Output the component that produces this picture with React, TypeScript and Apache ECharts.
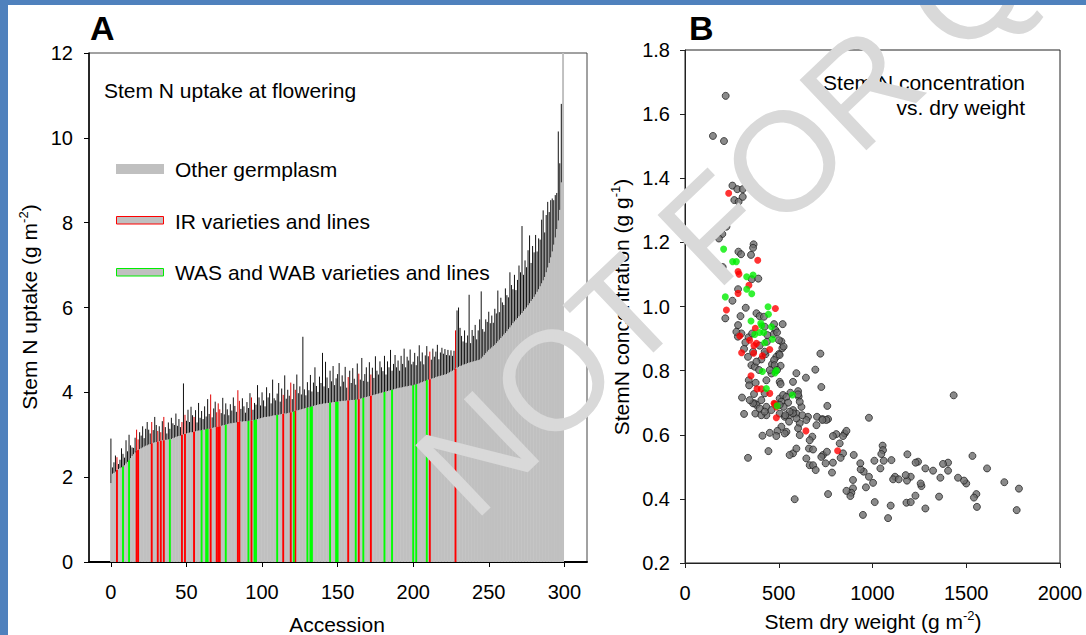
import React, { useEffect, useRef } from 'react';
import * as echarts from 'echarts';

const FONT = "'Liberation Sans', Arial, Helvetica, sans-serif";

// Panel A: sorted stem N uptake per accession (index = accession rank)
const STEM_N_UPTAKE = [
  1.86, 2.08, 2.10, 2.13, 2.17, 2.19, 2.21, 2.23, 2.25, 2.28,
  2.32, 2.36, 2.40, 2.45, 2.50, 2.54, 2.58, 2.62, 2.64, 2.66,
  2.68, 2.70, 2.72, 2.74, 2.75, 2.77, 2.78, 2.80, 2.81, 2.82,
  2.83, 2.84, 2.85, 2.86, 2.87, 2.87, 2.88, 2.88, 2.89, 2.89,
  2.90, 2.92, 2.93, 2.95, 2.96, 2.97, 2.98, 3.00, 3.01, 3.02,
  3.03, 3.04, 3.05, 3.06, 3.06, 3.07, 3.08, 3.09, 3.10, 3.10,
  3.11, 3.12, 3.12, 3.13, 3.14, 3.14, 3.15, 3.16, 3.17, 3.18,
  3.18, 3.19, 3.20, 3.21, 3.22, 3.23, 3.24, 3.25, 3.26, 3.27,
  3.27, 3.28, 3.28, 3.29, 3.30, 3.30, 3.31, 3.31, 3.32, 3.32,
  3.32, 3.33, 3.33, 3.33, 3.34, 3.35, 3.36, 3.37, 3.38, 3.39,
  3.40, 3.41, 3.42, 3.42, 3.43, 3.43, 3.44, 3.45, 3.46, 3.46,
  3.47, 3.47, 3.48, 3.49, 3.49, 3.50, 3.50, 3.51, 3.52, 3.53,
  3.54, 3.55, 3.56, 3.57, 3.58, 3.59, 3.60, 3.61, 3.62, 3.63,
  3.64, 3.65, 3.66, 3.67, 3.68, 3.69, 3.70, 3.71, 3.72, 3.72,
  3.73, 3.74, 3.74, 3.75, 3.75, 3.76, 3.76, 3.77, 3.77, 3.78,
  3.78, 3.79, 3.79, 3.80, 3.80, 3.80, 3.81, 3.81, 3.81, 3.82,
  3.82, 3.82, 3.83, 3.83, 3.84, 3.85, 3.86, 3.87, 3.88, 3.89,
  3.90, 3.91, 3.92, 3.93, 3.94, 3.95, 3.96, 3.97, 3.98, 3.99,
  4.00, 4.01, 4.02, 4.03, 4.04, 4.05, 4.06, 4.07, 4.08, 4.09,
  4.10, 4.11, 4.11, 4.12, 4.13, 4.14, 4.14, 4.15, 4.16, 4.16,
  4.17, 4.18, 4.19, 4.20, 4.21, 4.23, 4.24, 4.26, 4.27, 4.29,
  4.30, 4.31, 4.32, 4.33, 4.34, 4.36, 4.37, 4.38, 4.39, 4.40,
  4.41, 4.42, 4.43, 4.45, 4.47, 4.49, 4.51, 4.53, 4.56, 4.58,
  4.60, 4.62, 4.63, 4.65, 4.66, 4.67, 4.69, 4.70, 4.71, 4.72,
  4.73, 4.74, 4.75, 4.76, 4.77, 4.80, 4.84, 4.88, 4.92, 4.96,
  5.00, 5.03, 5.06, 5.09, 5.12, 5.16, 5.20, 5.24, 5.28, 5.32,
  5.36, 5.40, 5.44, 5.49, 5.53, 5.58, 5.63, 5.67, 5.71, 5.75,
  5.79, 5.83, 5.87, 5.92, 5.96, 6.00, 6.05, 6.10, 6.15, 6.20,
  6.25, 6.31, 6.37, 6.43, 6.50, 6.57, 6.64, 6.72, 6.83, 6.94,
  7.05, 7.18, 7.32, 7.48, 7.65, 7.85, 8.05, 8.30, 8.95, 12.0,
];

const UPTAKE_ERROR = [
  1.05, 0.15, 0.25, 0.38, 0.30, 0.12, 0.20, 0.45, 0.30, 0.18,
  0.55, 0.25, 0.60, 0.30, 0.20, 0.15, 0.35, 0.50, 0.25, 0.40,
  0.30, 0.50, 0.20, 0.40, 0.55, 0.35, 0.25, 0.50, 0.30, 0.60,
  0.40, 0.25, 0.35, 0.20, 0.45, 0.55, 0.30, 0.15, 0.40, 0.25,
  0.50, 0.35, 0.30, 0.55, 0.25, 0.40, 0.20, 0.30, 1.20, 0.45,
  0.30, 0.55, 0.25, 0.60, 0.40, 0.35, 0.50, 0.20, 0.65, 0.30,
  0.45, 0.25, 0.55, 0.30, 0.70, 0.35, 0.80, 0.25, 0.45, 0.60,
  0.35, 0.55, 0.40, 0.30, 0.65, 0.25, 0.50, 0.35, 0.20, 0.45,
  0.30, 0.60, 0.40, 0.25, 0.75, 0.50, 0.30, 0.55, 0.35, 0.20,
  0.45, 0.30, 0.65, 0.55, 0.25, 0.40, 0.35, 0.80, 0.50, 0.30,
  0.60, 0.40, 0.25, 0.70, 0.45, 0.55, 0.30, 0.85, 0.40, 0.35,
  0.50, 0.75, 0.30, 0.60, 0.45, 0.90, 0.35, 0.55, 0.40, 0.70,
  0.30, 0.65, 0.50, 0.85, 0.40, 0.55, 0.35, 1.70, 0.45, 0.30,
  0.60, 0.40, 0.75, 0.35, 0.55, 0.90, 0.45, 0.30, 0.65, 0.50,
  1.20, 0.40, 0.98, 0.60, 0.35, 0.75, 0.50, 0.85, 0.40, 0.55,
  0.65, 0.90, 0.35, 0.60, 0.45, 0.80, 0.30, 0.55, 0.70, 0.40,
  0.75, 0.50, 0.35, 0.85, 0.60, 0.45, 0.95, 0.40, 0.55, 0.70,
  0.35, 0.80, 0.50, 0.65, 0.40, 0.90, 0.55, 0.45, 0.75, 0.60,
  0.50, 0.85, 0.40, 0.70, 0.55, 0.95, 0.45, 0.60, 0.80, 0.50,
  0.65, 0.40, 0.75, 0.55, 0.90, 0.45, 0.70, 0.60, 0.85, 0.50,
  0.55, 0.75, 0.45, 0.65, 0.90, 0.50, 0.70, 0.40, 0.60, 0.80,
  0.55, 0.65, 0.45, 0.70, 0.50, 0.60, 0.75, 0.40, 0.55, 0.65,
  0.50, 0.60, 0.45, 0.55, 0.40, 0.50, 0.35, 0.45, 0.90, 1.35,
  1.40, 0.90, 0.70, 0.55, 0.80, 0.50, 0.65, 1.60, 0.45, 0.75,
  0.60, 0.85, 0.50, 0.70, 0.95, 1.58, 0.65, 0.55, 0.80, 0.70,
  0.90, 0.60, 0.75, 0.55, 0.85, 0.70, 1.20, 0.65, 0.95, 0.80,
  0.70, 1.05, 0.85, 0.75, 1.30, 0.95, 0.80, 1.10, 0.70, 0.90,
  1.20, 1.00, 2.05, 0.85, 1.15, 0.95, 1.30, 1.60, 0.90, 1.25,
  1.05, 1.40, 0.95, 1.20, 1.10, 1.50, 1.65, 1.05, 1.35, 1.55,
  1.20, 1.35, 1.25, 1.05, 1.00, 0.85, 2.10, 1.10, 1.85, 0.00,
];

const IR_ACCESSIONS = [4, 17, 18, 27, 31, 33, 35, 47, 49, 55, 66, 70, 71, 72, 84, 85, 93, 114, 119, 122, 157, 164, 172, 211, 228];
const WAS_ACCESSIONS = [8, 12, 39, 60, 63, 64, 76, 91, 95, 96, 110, 121, 130, 132, 133, 145, 149, 150, 162, 167, 181, 186, 200, 202, 209];
const ACCESSION_TICKS = [0, 50, 100, 150, 200, 250, 300];

// Panel B: [stem dry weight, stem N concentration]
const OTHER_POINTS = [
  [217, 1.657], [149, 1.532], [208, 1.516], [304, 1.439], [253, 1.377], [279, 1.366], [308, 1.366], [263, 1.332], [286, 1.327], [308, 1.342],
  [221, 1.249], [199, 1.226], [181, 1.212], [285, 1.171], [299, 1.163], [366, 1.194], [363, 1.183], [352, 1.161], [201, 1.123], [356, 1.085],
  [391, 1.087], [283, 1.054], [253, 1.018], [215, 0.963], [324, 0.996], [296, 0.970], [283, 0.942], [301, 0.916], [282, 0.906], [381, 0.979],
  [398, 0.970], [421, 0.968], [425, 0.937], [475, 0.945], [521, 0.945], [482, 0.927], [473, 0.914], [491, 0.919], [339, 0.904], [358, 0.916],
  [315, 0.868], [398, 0.878], [437, 0.890], [514, 0.891], [519, 0.870], [501, 0.852], [722, 0.853], [695, 0.803], [645, 0.778], [727, 0.749],
  [594, 0.792], [576, 0.765], [603, 0.736], [562, 0.731], [606, 0.719], [1433, 0.723], [981, 0.653], [759, 0.690],
  [407, 0.835], [429, 0.851], [487, 0.843], [464, 0.820], [475, 0.833], [510, 0.815], [461, 0.791], [434, 0.770], [505, 0.765], [510, 0.758],
  [340, 0.770], [342, 0.754], [377, 0.762], [372, 0.698], [368, 0.727], [425, 0.729], [407, 0.708], [434, 0.687], [461, 0.677], [505, 0.713],
  [523, 0.724], [514, 0.703], [541, 0.718], [550, 0.700], [526, 0.687], [505, 0.666], [532, 0.656], [558, 0.661], [594, 0.666], [621, 0.687],
  [576, 0.677], [612, 0.703], [603, 0.726], [656, 0.656], [704, 0.656], [733, 0.649], [763, 0.649], [304, 0.716], [375, 0.666], [425, 0.859],
  [322, 0.888], [336, 0.843], [354, 0.817], [372, 0.812], [395, 0.802], [381, 0.828], [478, 0.817], [491, 0.802], [452, 0.802], [505, 0.849],
  [526, 0.875], [439, 0.911], [501, 0.895], [363, 0.859], [274, 0.921],
  [315, 0.665], [336, 0.528], [413, 0.597], [445, 0.549], [585, 0.399], [763, 0.415], [949, 0.350], [1083, 0.340], [1097, 0.379], [1012, 0.390],
  [1533, 0.534], [1611, 0.495], [1703, 0.452], [1781, 0.432], [1769, 0.365], [1557, 0.375], [1554, 0.415], [1541, 0.404], [1500, 0.448], [1488, 0.457],
  [1456, 0.466], [1403, 0.513], [1403, 0.488], [1376, 0.509], [1362, 0.466], [1355, 0.407], [1323, 0.488], [1282, 0.495], [1282, 0.370], [1261, 0.440],
  [1257, 0.448], [1243, 0.516], [1230, 0.513], [1229, 0.410], [1204, 0.469], [1184, 0.457], [1177, 0.474], [1181, 0.388], [1204, 0.390], [1186, 0.539],
  [1120, 0.469], [1110, 0.461], [1101, 0.521], [1140, 0.461], [1054, 0.566], [1056, 0.552], [1047, 0.540], [1060, 0.519], [1042, 0.495], [1010, 0.519],
  [1003, 0.450], [981, 0.469], [953, 0.485], [937, 0.492], [965, 0.436], [935, 0.511], [900, 0.537], [896, 0.433], [887, 0.419], [882, 0.409],
  [861, 0.425], [843, 0.542], [830, 0.528], [896, 0.459], [784, 0.482], [789, 0.513], [750, 0.511], [736, 0.537], [727, 0.531], [757, 0.547],
  [825, 0.573], [852, 0.604], [843, 0.596], [861, 0.612], [807, 0.602], [789, 0.596], [754, 0.646], [733, 0.646], [701, 0.630], [679, 0.594],
  [661, 0.557], [683, 0.554], [647, 0.526], [665, 0.505], [683, 0.505], [697, 0.490], [665, 0.583], [647, 0.646], [626, 0.661], [612, 0.636],
  [603, 0.620], [612, 0.599], [594, 0.651], [576, 0.667], [558, 0.672], [555, 0.641], [541, 0.609], [576, 0.542], [558, 0.537], [594, 0.557],
  [532, 0.604], [514, 0.625], [493, 0.612], [487, 0.596], [452, 0.606], [434, 0.661], [407, 0.661], [381, 0.693], [363, 0.698], [345, 0.708],
  [398, 0.682], [425, 0.672], [505, 0.693], [535, 0.661],
];

const IR_POINTS = [
  [233, 1.353], [388, 1.144], [283, 1.109], [288, 1.101], [341, 1.066], [283, 1.041], [221, 0.989], [482, 0.994], [375, 0.932], [292, 0.908],
  [345, 0.895], [368, 0.878], [381, 0.885], [366, 0.854], [413, 0.846], [452, 0.866], [302, 0.856], [352, 0.784], [384, 0.743], [407, 0.743],
  [452, 0.729], [475, 0.698], [487, 0.687], [487, 0.653], [645, 0.612], [814, 0.550], [478, 0.696],
];

const WAS_POINTS = [
  [206, 1.179], [254, 1.140], [274, 1.140], [329, 1.093], [363, 1.098], [329, 1.054], [356, 1.040], [215, 1.030], [443, 0.999], [445, 0.976],
  [352, 0.955], [404, 0.948], [409, 0.940], [372, 0.913], [398, 0.919], [420, 0.919], [466, 0.898], [425, 0.887], [413, 0.797], [480, 0.793],
  [487, 0.800], [434, 0.744], [573, 0.724], [491, 0.690], [461, 0.937],
];

const STEM_WEIGHT_TICKS = { min: 0, max: 2000, interval: 500 };
const CONC_TICKS = { min: 0.2, max: 1.8, interval: 0.2 };

export default function App() {
  const ref = useRef<HTMLDivElement>(null);

  useEffect(() => {
    const chart = echarts.init(ref.current as HTMLDivElement, null, { renderer: 'svg' });
    const irSet = new Set(IR_ACCESSIONS);

    const labelStyle = { color: '#000', fontSize: 20, fontFamily: FONT };
    const txt = (text: string, x: number, y: number, extra: any = {}) => ({
      type: 'text',
      x,
      y,
      z: 50,
      style: {
        text,
        fill: '#000',
        font: `21px ${FONT}`,
        textAlign: 'left',
        textVerticalAlign: 'middle',
        ...extra,
      },
    });
    const richName = (parts: string) => ({
      text: parts,
      fill: '#000',
      fontSize: 21,
      fontFamily: FONT,
      textAlign: 'center',
      textVerticalAlign: 'middle',
      rich: {
        n: { fontSize: 21, fontFamily: FONT, lineHeight: 24, fill: '#000', color: '#000' },
        s: { fontSize: 13, fontFamily: FONT, lineHeight: 13, verticalAlign: 'top', fill: '#000', color: '#000' },
      },
    });

    const option: any = {
      animation: false,
      backgroundColor: '#fff',
      grid: [
        { left: 89, top: 53, width: 498, height: 509, show: true, borderColor: '#444', borderWidth: 1, backgroundColor: 'transparent' },
        { left: 685, top: 50, width: 375, height: 513, show: true, borderColor: '#222', borderWidth: 1, backgroundColor: 'transparent' },
      ],
      xAxis: [
        {
          type: 'value', gridIndex: 0, min: -14.5, max: 315,
          axisLine: { show: true, onZero: false, lineStyle: { color: '#000', width: 2 } },
          axisTick: { show: true, length: 5, customValues: ACCESSION_TICKS, lineStyle: { color: '#000', width: 1 } },
          axisLabel: { ...labelStyle, margin: 20, customValues: ACCESSION_TICKS },
          splitLine: { show: false },
        },
        {
          type: 'value', gridIndex: 1, ...STEM_WEIGHT_TICKS,
          axisLine: { show: true, onZero: false, lineStyle: { color: '#222', width: 1 } },
          axisTick: { show: true, length: 5, lineStyle: { color: '#222', width: 1 } },
          axisLabel: { ...labelStyle, margin: 20, formatter: (v: number) => String(v) },
          splitLine: { show: false },
        },
      ],
      yAxis: [
        {
          type: 'value', gridIndex: 0, min: 0, max: 12, interval: 2,
          axisLine: { show: true, onZero: false, lineStyle: { color: '#000', width: 1.5 } },
          axisTick: { show: true, length: 5, lineStyle: { color: '#000', width: 1 } },
          axisLabel: { ...labelStyle, margin: 16 },
          splitLine: { show: false },
        },
        {
          type: 'value', gridIndex: 1, ...CONC_TICKS,
          axisLine: { show: true, onZero: false, lineStyle: { color: '#222', width: 1 } },
          axisTick: { show: true, length: 5, lineStyle: { color: '#222', width: 1 } },
          axisLabel: { ...labelStyle, margin: 15, formatter: (v: number) => v.toFixed(1) },
          splitLine: { show: false },
        },
      ],
      series: [
        {
          type: 'custom', xAxisIndex: 0, yAxisIndex: 0, clip: false,
          data: STEM_N_UPTAKE.map((v, i) => [i, v]),
          encode: { x: 0, y: 1 },
          renderItem: (_p: any, api: any) => {
            const i = api.value(0);
            const v = api.value(1);
            const a = api.coord([i - 0.5, 0]);
            const b = api.coord([i + 0.5, v]);
            return {
              type: 'rect',
              shape: { x: a[0], y: b[1], width: b[0] - a[0] + 0.45, height: a[1] - b[1] },
              style: { fill: '#c0c0c0' },
            };
          },
        },
        {
          type: 'custom', xAxisIndex: 0, yAxisIndex: 0, clip: false,
          data: [
            ...IR_ACCESSIONS.map((i) => [i, STEM_N_UPTAKE[i], 1]),
            ...WAS_ACCESSIONS.map((i) => [i, STEM_N_UPTAKE[i], 2]),
          ],
          encode: { x: 0, y: 1 },
          renderItem: (_p: any, api: any) => {
            const i = api.value(0);
            const v = api.value(1);
            const kind = api.value(2);
            const a = api.coord([i, 0]);
            const b = api.coord([i, v]);
            const w = api.size([1, 0])[0] * 1.25;
            return {
              type: 'rect',
              shape: { x: a[0] - w / 2, y: b[1], width: w, height: a[1] - b[1] },
              style: { fill: kind === 1 ? '#ff0000' : '#00ff00' },
            };
          },
        },
        {
          type: 'custom', xAxisIndex: 0, yAxisIndex: 0, clip: false,
          data: STEM_N_UPTAKE.map((v, i) => [i, v, v + UPTAKE_ERROR[i], irSet.has(i) ? 1 : 0]),
          encode: { x: 0, y: 2 },
          renderItem: (_p: any, api: any) => {
            const i = api.value(0);
            const lo = api.coord([i, api.value(1)]);
            const hi = api.coord([i, api.value(2)]);
            return {
              type: 'line',
              shape: { x1: lo[0], y1: lo[1], x2: hi[0], y2: hi[1] },
              style: { stroke: api.value(3) === 1 ? '#e00000' : '#111', lineWidth: 1 },
            };
          },
        },
        {
          type: 'scatter', xAxisIndex: 1, yAxisIndex: 1, data: OTHER_POINTS,
          symbolSize: 7,
          itemStyle: { color: '#6d6d6d', borderColor: '#1a1a1a', borderWidth: 0.9 },
        },
        {
          type: 'scatter', xAxisIndex: 1, yAxisIndex: 1, data: IR_POINTS,
          symbolSize: 7,
          itemStyle: { color: '#ff0000' },
        },
        {
          type: 'scatter', xAxisIndex: 1, yAxisIndex: 1, data: WAS_POINTS,
          symbolSize: 7,
          itemStyle: { color: '#00ee00' },
        },
      ],
      graphic: [
        { type: 'rect', z: 200, shape: { x: 0, y: 0, width: 1086, height: 5 }, style: { fill: '#4f81bd' } },
        { type: 'rect', z: 200, shape: { x: 0, y: 0, width: 8, height: 635 }, style: { fill: '#4f81bd' } },
        txt('A', 90, 28, { font: `bold 34px ${FONT}` }),
        txt('B', 689, 28, { font: `bold 34px ${FONT}` }),
        txt('Stem N uptake at flowering', 104, 90),
        { type: 'rect', z: 50, shape: { x: 116, y: 164, width: 48, height: 10 }, style: { fill: '#c0c0c0' } },
        { type: 'rect', z: 50, shape: { x: 116.5, y: 216.5, width: 47, height: 7.5 }, style: { fill: '#c0c0c0', stroke: '#ff0000', lineWidth: 1 } },
        { type: 'rect', z: 50, shape: { x: 116.5, y: 268.5, width: 47, height: 7.5 }, style: { fill: '#c0c0c0', stroke: '#00ee00', lineWidth: 1 } },
        txt('Other germplasm', 175, 169.5),
        txt('IR varieties and lines', 175, 221),
        txt('WAS and WAB varieties and lines', 175, 272.5),
        txt('Stem N concentration', 1025, 82, { textAlign: 'right' }),
        txt('vs. dry weight', 1025, 107, { textAlign: 'right' }),
        { type: 'text', z: 50, x: 337, y: 624, style: richName('{n|Accession}') },
        { type: 'text', z: 50, x: 873, y: 621, style: richName('{n|Stem dry weight (g m}{s|-2}{n|)}') },
        { type: 'text', z: 50, x: 29, y: 307, rotation: Math.PI / 2, style: richName('{n|Stem N uptake (g m}{s|-2}{n|)}') },
        { type: 'text', z: 50, x: 621, y: 307, rotation: Math.PI / 2, style: richName('{n|StemN concentration (g g}{s|-1}{n|)}') },
        {
          type: 'text', z: 150, x: 440, y: 488, rotation: 0.76,
          style: { text: 'NOT FOR QC', fill: '#d9d9d9', font: `141px ${FONT}`, textAlign: 'left', textVerticalAlign: 'middle' },
        },
      ],
    };

    chart.setOption(option);
    return () => chart.dispose();
  }, []);

  return (
    <div
      ref={ref}
      style={{ position: 'absolute', left: 0, top: 0, width: 1086, height: 635, background: '#fff' }}
    />
  );
}
